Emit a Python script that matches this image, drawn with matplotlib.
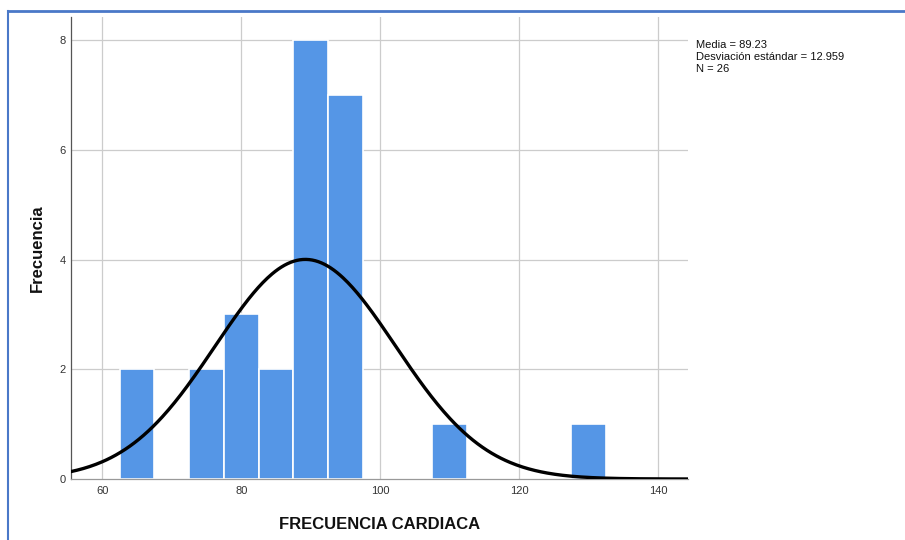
import numpy as np
import matplotlib
matplotlib.use("Agg")
import matplotlib.pyplot as plt
from matplotlib.lines import Line2D

plt.rcParams['font.family'] = ['Liberation Sans', 'DejaVu Sans']

# Data
bin_left = [62.5, 72.5, 77.5, 82.5, 87.5, 92.5, 107.5, 127.5]
counts = [2, 2, 3, 2, 8, 7, 1, 1]
bin_width = 5
mean = 89.23
std = 12.959
n = 26
x_ticks = [60, 80, 100, 120, 140]
y_ticks = [0, 2, 4, 6, 8]

fig = plt.figure(figsize=(9.05, 5.4), dpi=100)
ax = fig.add_axes([71/905, (540-479)/540, (688-71)/905, (479-17)/540])

grid_c = '#cccccc'
ax.set_xlim(55.5, 144.3)
ax.set_ylim(0, 8.42)
for t in x_ticks:
    ax.axvline(t, color=grid_c, lw=0.9, zorder=0)
for t in y_ticks[1:]:
    ax.axhline(t, color=grid_c, lw=0.9, zorder=0)

ax.bar(bin_left, counts, width=bin_width, align='edge', color='#5596E6',
       edgecolor='white', linewidth=1.2, zorder=2)

xs = np.linspace(55.5, 144.3, 400)
ys = n * bin_width * np.exp(-0.5 * ((xs - mean) / std) ** 2) / (std * np.sqrt(2 * np.pi))
ax.plot(xs, ys, color='black', lw=2.4, zorder=3, solid_capstyle='round')

ax.set_xticks(x_ticks)
ax.set_yticks(y_ticks)
ax.tick_params(axis='both', length=0, labelsize=8, colors='#333333')
ax.tick_params(axis='y', pad=4)
ax.tick_params(axis='x', pad=5)

for s in ['top', 'right']:
    ax.spines[s].set_visible(False)
ax.spines['left'].set_color('#555555')
ax.spines['left'].set_linewidth(0.9)
ax.spines['bottom'].set_color('#999999')
ax.spines['bottom'].set_linewidth(0.9)

ax.set_xlabel('FRECUENCIA CARDIACA', fontsize=12, fontweight='bold', color='#111111', labelpad=15)
ax.set_ylabel('Frecuencia', fontsize=12, fontweight='bold', color='#111111', labelpad=10)

fig.text(696/905, 1 - 40/540, 'Media = 89.23\nDesviación estándar = 12.959\nN = 26',
         fontsize=8, va='top', ha='left', linespacing=1.25, color='#111111')

# blue border frame
fig.add_artist(Line2D([8/905, 1.0], [1 - 10.5/540, 1 - 10.5/540], transform=fig.transFigure,
                      color='#4a78c8', lw=2))
fig.add_artist(Line2D([8/905, 8/905], [0, 1 - 10.5/540], transform=fig.transFigure,
                      color='#4a78c8', lw=1.5))

fig.savefig('out.png', dpi=100)
